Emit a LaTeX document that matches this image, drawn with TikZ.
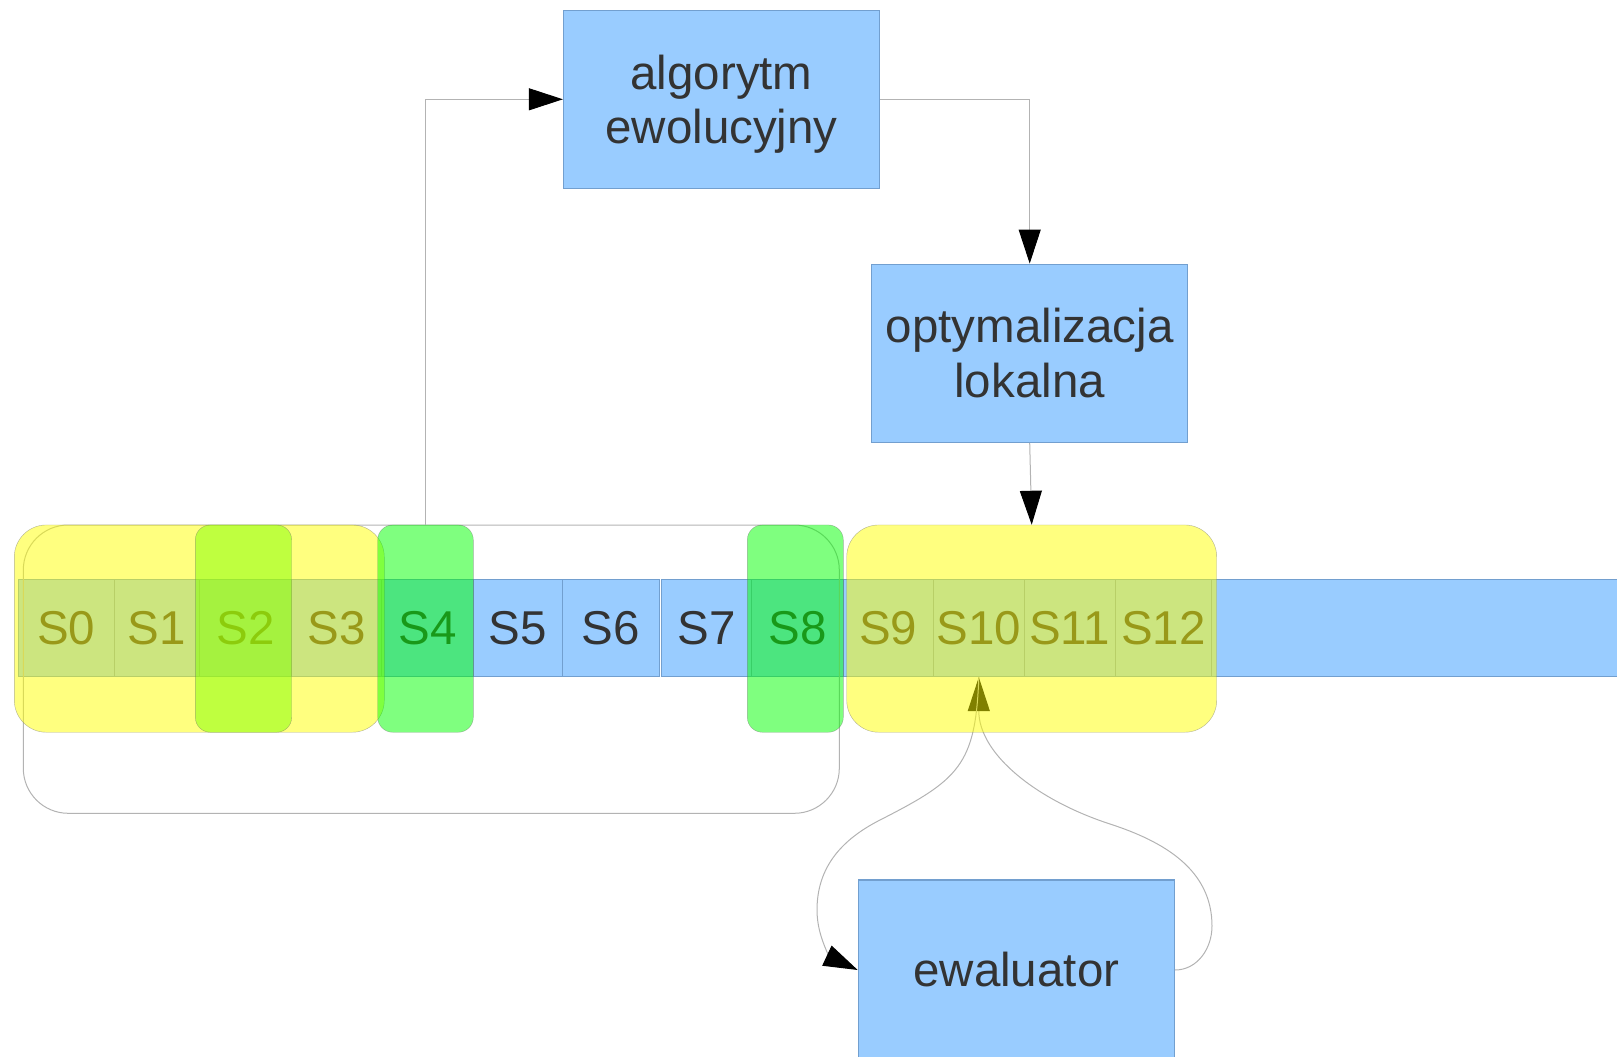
\documentclass[tikz,border=0pt]{standalone}
\usepackage{fontspec}
\setmainfont{Liberation Sans}
\usetikzlibrary{arrows.meta}
\definecolor{niebieski}{RGB}{153,204,255}
\definecolor{ramka}{RGB}{114,159,207}
\definecolor{tekst}{RGB}{51,51,51}
\definecolor{linia}{RGB}{179,179,179}
\definecolor{zolty}{RGB}{255,255,0}
\definecolor{zielony}{RGB}{0,255,0}
\definecolor{limonka}{RGB}{128,255,0}

\begin{document}
\begin{tikzpicture}[x=1pt, y=1pt,
        font=\fontsize{47.5}{54.5}\selectfont, text=tekst,
        cell/.style={draw=ramka, fill=niebieski, line width=1pt, minimum height=96.7pt, inner sep=0pt},
        blok/.style={draw=ramka, fill=niebieski, line width=1.2pt, minimum width=316pt, minimum height=178pt, align=center, inner sep=0pt},
        okno/.style={draw=black!60, fill=zolty, opacity=0.5, rounded corners=32pt, minimum height=207.3pt, inner sep=0pt},
        znacznik/.style={draw=black!60, fill=zielony, opacity=0.5, rounded corners=15pt, minimum height=207.3pt, inner sep=0pt},
        conn/.style={draw=linia, line width=1pt},
        strzalka/.style={conn, -{Triangle[length=34pt, width=22pt, color=black]}}]
    \useasboundingbox (0,0) rectangle (1617,-1057);

    \foreach \i/\l/\r in {0/18.3/114.3, 1/114.3/199.3, 2/199.3/291.7, 3/291.7/381.7,
                          4/381.7/473.3, 5/473.3/562.7, 6/562.7/659, 7/661.3/751.7,
                          8/751.7/843.3, 9/843.3/933.3, 10/933.3/1024.3,
                          11/1024.3/1115.3, 12/1115.3/1211.7} {
        \node[cell, minimum width={\r-\l}] (S\i) at ({(\l+\r)/2}, -628.3) {S\i};
    }
    \node[cell, minimum width=420pt] (reszta) at (1421.7, -628.3) {};

    \node[blok, text depth=0pt] (alg) at (721.5, -99.3) {algorytm\\ewolucyjny};
    \node[blok] (opt) at (1029.7, -353.2) {optymalizacja\\lokalna};
    \node[blok, minimum height=180pt] (ewal) at (1016.3, -970) {ewaluator};

    \coordinate (p1) at (1212, -926);
    \coordinate (p2) at (1110, -824);
    \coordinate (q1) at (880, -820);
    \coordinate (q2) at (817, -910);
    \draw[strzalka] (ewal.east) to[out=0, in=-90] (p1) to[out=90, in=-18] (p2)
        to[out=162, in=-90] (S10.south);
    \draw[strzalka] (S10.south) to[out=-92, in=27, looseness=1.3] (q1)
        to[out=207, in=90] (q2) to[out=-90, in=155] (ewal.west);

    \draw[conn, rounded corners=45pt] (23.3,-525) rectangle (839.3,-813.3);

    \node[okno, minimum width=370pt] (okno1) at (199.3, -628.6) {};
    \node[okno, minimum width=370pt] (okno2) at (1031.7, -628.6) {};

    \node[znacznik, fill=limonka, minimum width=96.4pt] (g2) at (243.5, -628.6) {};
    \node[znacznik, minimum width=95.6pt] (g4) at (425.5, -628.6) {};
    \node[znacznik, minimum width=96pt] (g8) at (795.3, -628.6) {};

    \draw[strzalka] (g4.north) |- (alg.west);
    \draw[strzalka] (alg.east) -| (opt.north);
    \draw[strzalka] (opt.south) -- (okno2.north);
\end{tikzpicture}
\end{document}
